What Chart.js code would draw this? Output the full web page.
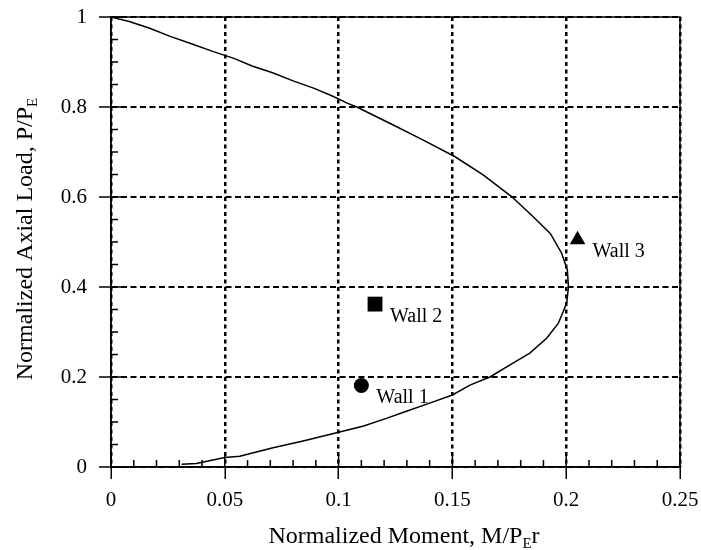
<!DOCTYPE html>
<html>
<head>
<meta charset="utf-8">
<title>Axial load - moment interaction</title>
<script src="https://cdn.jsdelivr.net/npm/chart.js@4.4.0/dist/chart.umd.min.js"></script>
<style>
  html, body { margin: 0; padding: 0; background: #fff; }
  #wrap { width: 701px; height: 550px; }
</style>
</head>
<body>
<div id="wrap"><canvas id="chart" width="701" height="550"></canvas></div>
<script>
// Interaction curve: normalized moment M/PEr against normalized axial load P/PE
const curveMoment = [
    0, 0.008, 0.017, 0.026, 0.035, 0.045, 0.054, 0.062, 0.071, 0.080,
    0.089, 0.097, 0.104, 0.108, 0.124, 0.137, 0.151, 0.1635, 0.176, 0.1855,
    0.193, 0.198, 0.2005, 0.201, 0.2002, 0.1965, 0.1914, 0.184, 0.1753, 0.1665,
    0.1577, 0.150, 0.140, 0.127, 0.121, 0.111, 0.100, 0.0844, 0.0712, 0.0566,
    0.050, 0.0375, 0.031
];
const curveLoad = [
    1.0, 0.99, 0.975, 0.957, 0.941, 0.923, 0.908, 0.891, 0.876, 0.858,
    0.842, 0.825, 0.808, 0.800, 0.760, 0.727, 0.690, 0.649, 0.601, 0.556,
    0.519, 0.475, 0.438, 0.400, 0.364, 0.319, 0.286, 0.253, 0.227, 0.200,
    0.182, 0.160, 0.142, 0.119, 0.108, 0.091, 0.077, 0.058, 0.043, 0.024,
    0.021, 0.008, 0.006
];

// Tested walls
const wallNames = ['Wall 1', 'Wall 2', 'Wall 3'];
const wallMoment = [0.110, 0.116, 0.205];
const wallLoad = [0.181, 0.362, 0.505];

// Axis tick labels
const xTickLabels = ['0', '0.05', '0.1', '0.15', '0.2', '0.25'];
const yTickLabels = ['0', '0.2', '0.4', '0.6', '0.8', '1'];

const FONT = '"Liberation Serif", "Times New Roman", serif';

// Draws text with an optional subscript piece, centred on (0, 0)
function drawParts(ctx, parts, size, subSize) {
    const widths = parts.map(([t, sub]) => {
        ctx.font = (sub ? subSize : size) + 'px ' + FONT;
        return ctx.measureText(t).width;
    });
    let x = -widths.reduce((a, b) => a + b, 0) / 2;
    parts.forEach(([t, sub], i) => {
        ctx.font = (sub ? subSize : size) + 'px ' + FONT;
        ctx.fillText(t, x, sub ? 5 : 0);
        x += widths[i];
    });
}

// Keep the plot box fixed: no extra room for overhanging tick labels
function noLabelPadding(scale) {
    scale.paddingLeft = 0;
    scale.paddingRight = 0;
    scale.paddingTop = 0;
    scale.paddingBottom = 0;
}

const framePlugin = {
    id: 'frame',
    afterDatasetsDraw(chart) {
        const ctx = chart.ctx;
        const meta = chart.getDatasetMeta(1);
        ctx.save();
        ctx.fillStyle = '#000';
        ctx.font = '20px ' + FONT;
        ctx.textAlign = 'left';
        ctx.textBaseline = 'alphabetic';
        meta.data.forEach((pt, i) => {
            ctx.fillText(wallNames[i], pt.x + 15, pt.y + 17.5);
        });
        ctx.restore();
    },
    afterDraw(chart) {
        const { ctx, chartArea: a, scales: { x, y } } = chart;
        ctx.save();
        ctx.strokeStyle = '#000';
        ctx.lineWidth = 1.5;
        ctx.strokeRect(a.left, a.top, a.right - a.left, a.bottom - a.top);

        // inward tick marks, minor every 0.01 / 0.05
        ctx.beginPath();
        for (let i = 0; i <= 25; i++) {
            const px = x.getPixelForValue(i / 100);
            const len = i % 5 === 0 ? 12 : 7;
            ctx.moveTo(px, a.bottom);
            ctx.lineTo(px, a.bottom - len);
        }
        for (let i = 0; i <= 20; i++) {
            const py = y.getPixelForValue(i / 20);
            const len = i % 4 === 0 ? 12 : 7;
            ctx.moveTo(a.left, py);
            ctx.lineTo(a.left + len, py);
        }
        ctx.stroke();

        // axis titles
        ctx.fillStyle = '#000';
        ctx.textAlign = 'left';
        ctx.textBaseline = 'alphabetic';
        ctx.save();
        ctx.translate(404, 543);
        drawParts(ctx, [['Normalized Moment, M/P', false], ['E', true], ['r', false]], 24, 15);
        ctx.restore();
        ctx.save();
        ctx.translate(32, 239);
        ctx.rotate(-Math.PI / 2);
        drawParts(ctx, [['Normalized Axial Load, P/P', false], ['E', true]], 24, 15);
        ctx.restore();
        ctx.restore();
    }
};

const curvePoints = curveMoment.map((m, i) => ({ x: m, y: curveLoad[i] }));
const wallPoints = wallMoment.map((m, i) => ({ x: m, y: wallLoad[i] }));

new Chart(document.getElementById('chart'), {
    type: 'scatter',
    data: {
        datasets: [{
            data: curvePoints,
            showLine: true,
            borderColor: '#000',
            borderWidth: 1.5,
            pointRadius: 0,
            tension: 0
        }, {
            data: wallPoints,
            pointStyle: ['circle', 'rect', 'triangle'],
            pointRadius: [7.5, 10.5, 9],
            backgroundColor: '#000',
            borderColor: '#000',
            borderWidth: 0
        }]
    },
    options: {
        responsive: false,
        animation: false,
        layout: { padding: { left: 0, right: 21, top: 17, bottom: 0 } },
        plugins: { legend: { display: false }, tooltip: { enabled: false } },
        scales: {
            x: {
                type: 'linear',
                min: 0,
                max: 0.25,
                ticks: {
                    stepSize: 0.05,
                    color: '#000',
                    padding: 9,
                    maxRotation: 0,
                    font: { family: FONT, size: 21 },
                    callback: (v, i) => xTickLabels[i]
                },
                grid: {
                    color: '#000',
                    lineWidth: 2.5,
                    tickLength: 12,
                    tickColor: '#000',
                    tickWidth: 1.5,
                    tickBorderDash: []
                },
                border: { display: true, color: '#000', width: 1.5, dash: [4, 3.5] },
                afterFit(scale) {
                    scale.height = 83;
                    noLabelPadding(scale);
                }
            },
            y: {
                type: 'linear',
                min: 0,
                max: 1,
                ticks: {
                    stepSize: 0.2,
                    color: '#000',
                    padding: 12,
                    font: { family: FONT, size: 21 },
                    callback: (v, i) => yTickLabels[i]
                },
                grid: {
                    color: '#000',
                    lineWidth: 2,
                    tickLength: 12,
                    tickColor: '#000',
                    tickWidth: 1.5,
                    tickBorderDash: []
                },
                border: { display: true, color: '#000', width: 1.5, dash: [6, 3.5] },
                afterFit(scale) {
                    scale.width = 111;
                    noLabelPadding(scale);
                }
            }
        }
    },
    plugins: [framePlugin]
});
</script>
</body>
</html>
